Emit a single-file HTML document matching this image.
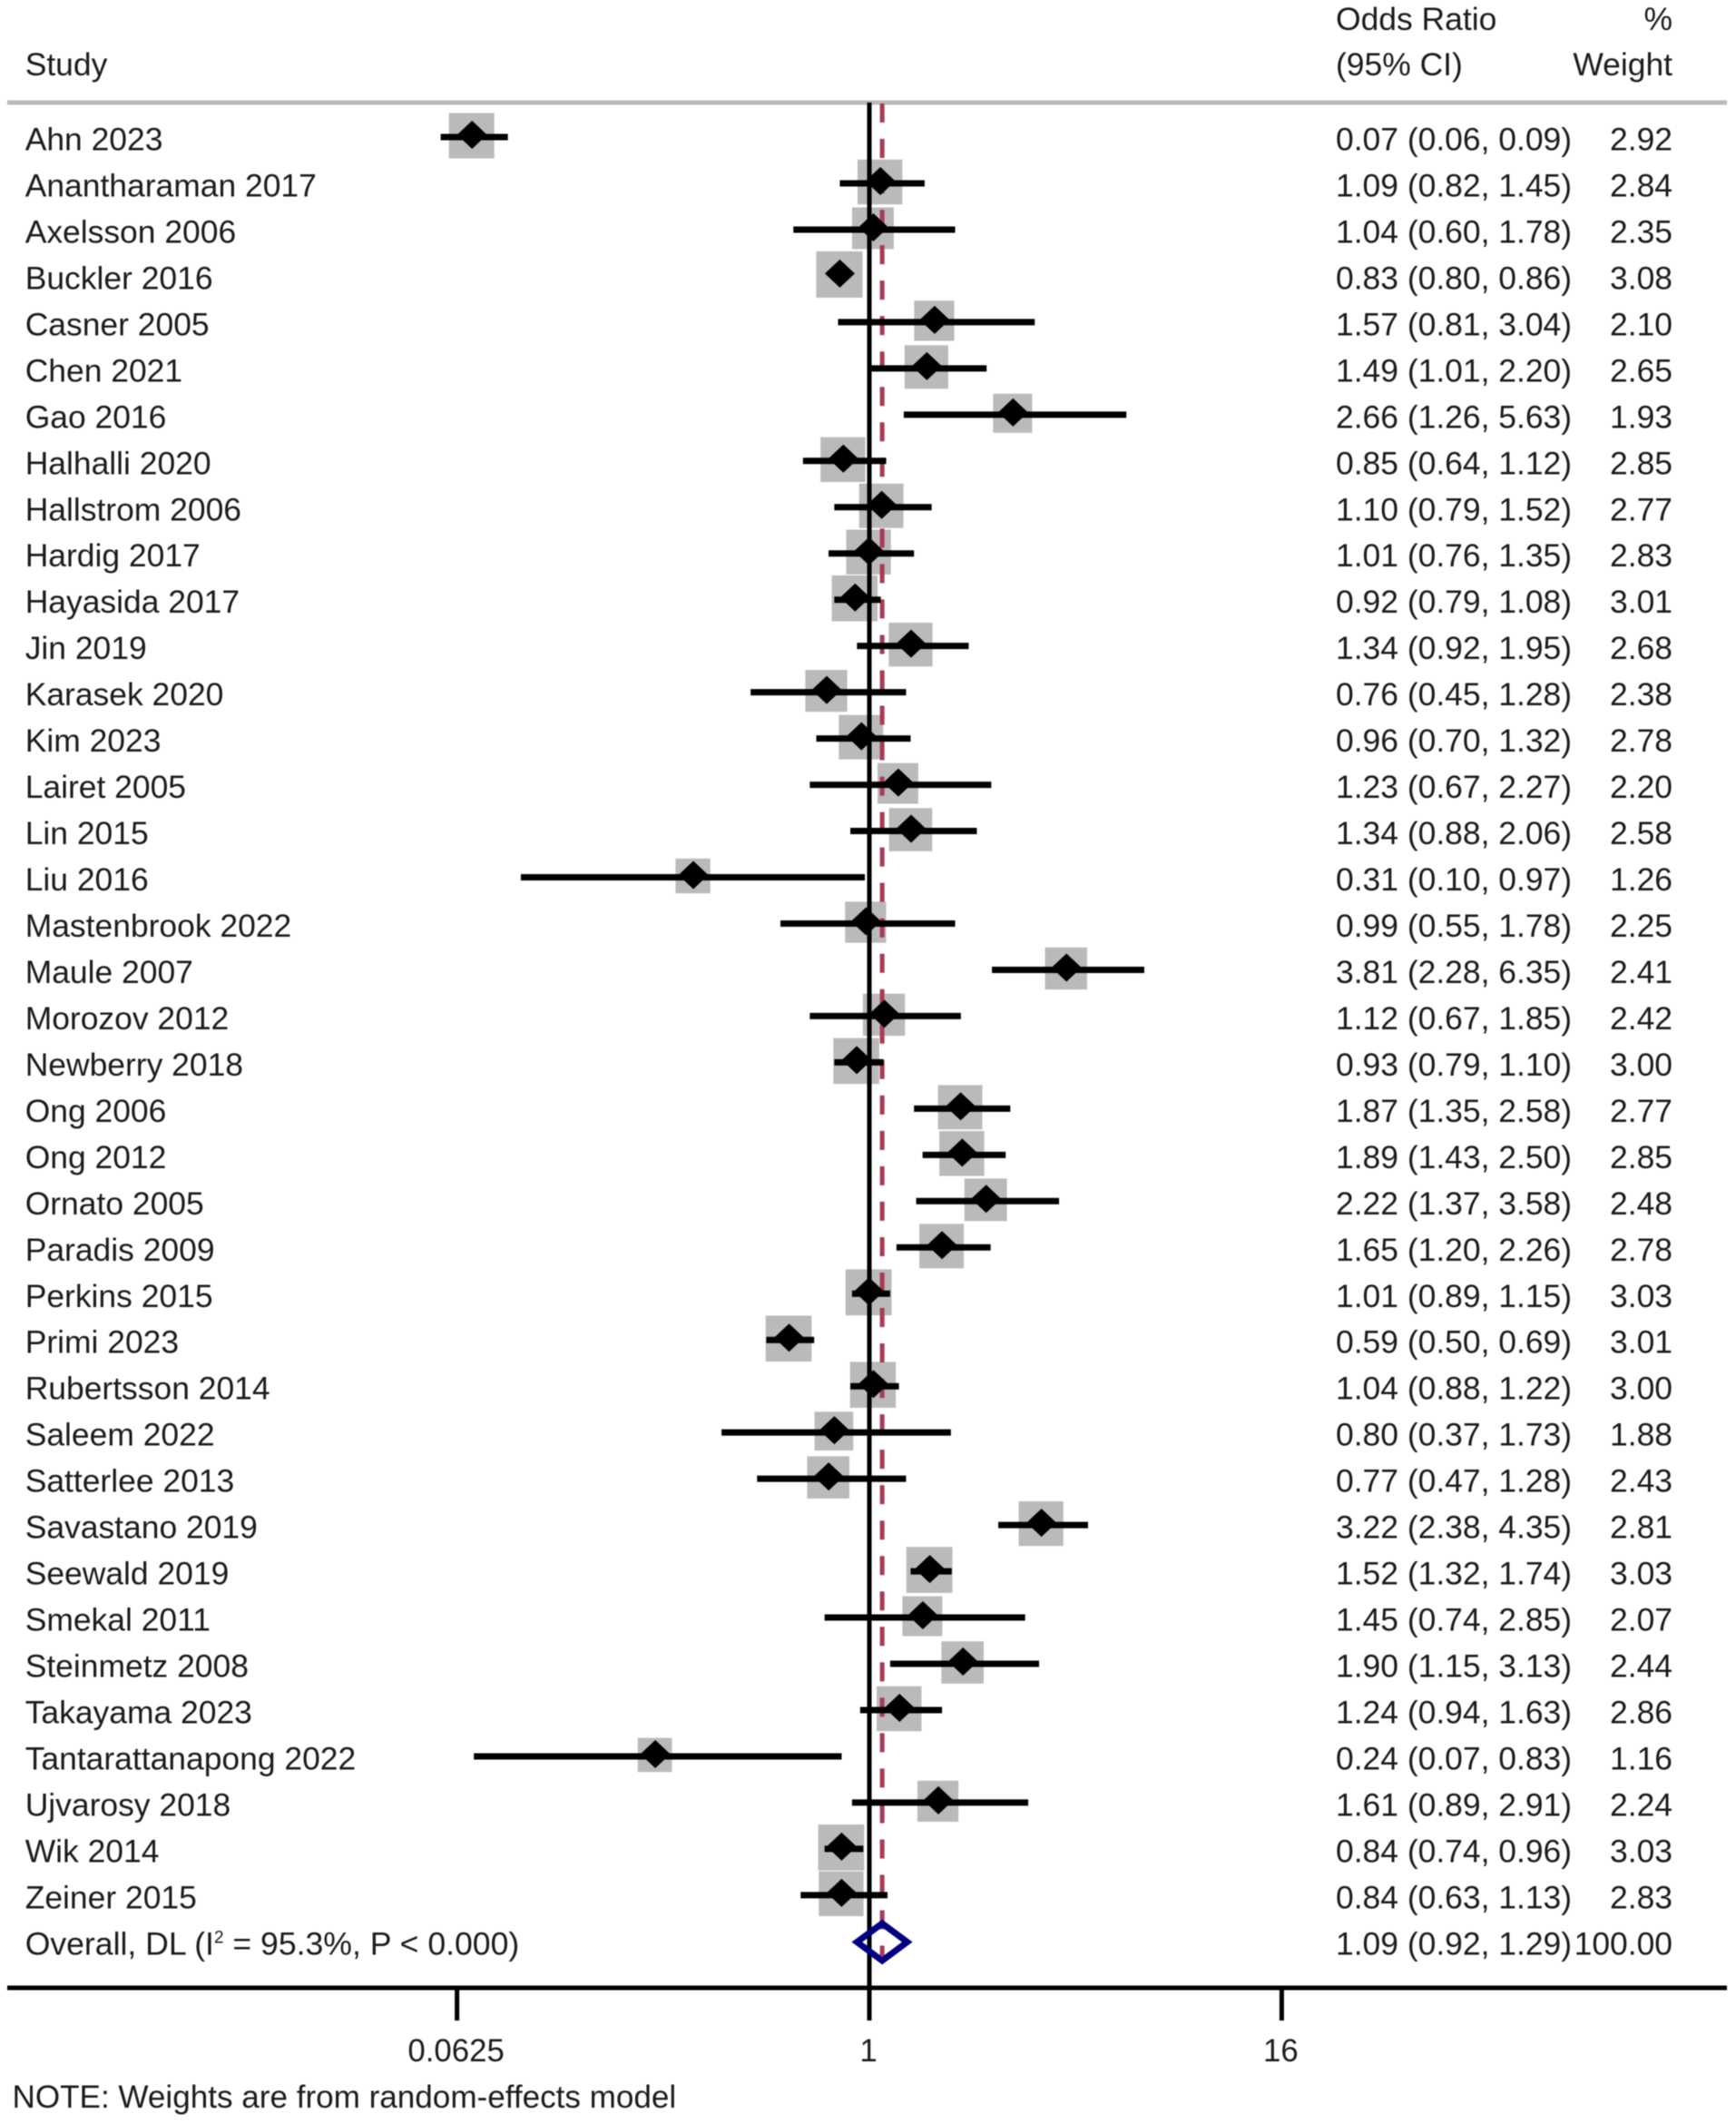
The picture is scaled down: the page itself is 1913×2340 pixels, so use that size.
<!DOCTYPE html>
<html lang="en">
<head>
<meta charset="utf-8">
<title>Forest plot of odds ratios</title>
<style>
  html, body { margin: 0; padding: 0; background: #fff; }
  svg { display: block; filter: blur(0.6px); }
  text { font-family: "Liberation Sans", Arial, sans-serif; fill: #1c1c1c; }
</style>
</head>
<body>
<svg id="plot" xmlns="http://www.w3.org/2000/svg" width="1913" height="2340" viewBox="0 0 1913 2340">
  <rect x="0" y="0" width="1913" height="2340" fill="#ffffff"/>
  <text x="1472" y="33" font-size="35.45">Odds Ratio</text>
  <text x="1843" y="33" font-size="35.45" text-anchor="end">%</text>
  <text x="27.7" y="83" font-size="35.45">Study</text>
  <text x="1472" y="83" font-size="35.45">(95% CI)</text>
  <text x="1843" y="83" font-size="35.45" text-anchor="end">Weight</text>
  <line x1="8" x2="1903" y1="113" y2="113" stroke="#bababa" stroke-width="5"/>
  <g id="boxes"></g>
  <g id="axis"></g>
  <g id="pooled"></g>
  <g id="marks"></g>
  <g id="labels"></g>
  <text x="13.5" y="2322" font-size="35.1">NOTE: Weights are from random-effects model</text>
</svg>
<script>
const studies = ["Ahn 2023","Anantharaman 2017","Axelsson 2006","Buckler 2016","Casner 2005","Chen 2021","Gao 2016","Halhalli 2020","Hallstrom 2006","Hardig 2017","Hayasida 2017","Jin 2019","Karasek 2020","Kim 2023","Lairet 2005","Lin 2015","Liu 2016","Mastenbrook 2022","Maule 2007","Morozov 2012","Newberry 2018","Ong 2006","Ong 2012","Ornato 2005","Paradis 2009","Perkins 2015","Primi 2023","Rubertsson 2014","Saleem 2022","Satterlee 2013","Savastano 2019","Seewald 2019","Smekal 2011","Steinmetz 2008","Takayama 2023","Tantarattanapong 2022","Ujvarosy 2018","Wik 2014","Zeiner 2015"];
const oddsRatios = [0.07,1.09,1.04,0.83,1.57,1.49,2.66,0.85,1.10,1.01,0.92,1.34,0.76,0.96,1.23,1.34,0.31,0.99,3.81,1.12,0.93,1.87,1.89,2.22,1.65,1.01,0.59,1.04,0.80,0.77,3.22,1.52,1.45,1.90,1.24,0.24,1.61,0.84,0.84];
const lowerCI = [0.056,0.82,0.60,0.80,0.81,1.01,1.26,0.64,0.79,0.76,0.79,0.92,0.45,0.70,0.67,0.88,0.096,0.55,2.28,0.67,0.79,1.35,1.43,1.37,1.20,0.89,0.50,0.88,0.37,0.47,2.38,1.32,0.74,1.15,0.94,0.07,0.89,0.74,0.63];
const upperCI = [0.088,1.45,1.78,0.86,3.04,2.20,5.63,1.12,1.52,1.35,1.08,1.95,1.28,1.32,2.27,2.06,0.97,1.78,6.35,1.85,1.10,2.58,2.50,3.58,2.26,1.15,0.69,1.22,1.73,1.28,4.35,1.74,2.85,3.13,1.63,0.83,2.91,0.96,1.13];
const weights = [2.92,2.84,2.35,3.08,2.10,2.65,1.93,2.85,2.77,2.83,3.01,2.68,2.38,2.78,2.20,2.58,1.26,2.25,2.41,2.42,3.00,2.77,2.85,2.48,2.78,3.03,3.01,3.00,1.88,2.43,2.81,3.03,2.07,2.44,2.86,1.16,2.24,3.03,2.83];
const overallOR = 1.09;
const overallLower = 0.92;
const overallUpper = 1.29;
const overallWeight = 100;
const xTickValues = [0.0625, 1, 16];
const xTickLabels = ["0.0625", "1", "16"];

const NS = "http://www.w3.org/2000/svg";
function xScale(v) { return 958 + 113.6 * Math.log2(v); }
function rowY(i) { return 151 + i * 50.97; }
function boxSide(w) { return 29.5 + 7 * w; }
function make(parent, tag, attrs, txt) {
  const el = document.createElementNS(NS, tag);
  for (const k in attrs) el.setAttribute(k, attrs[k]);
  if (txt !== undefined) el.textContent = txt;
  parent.appendChild(el);
  return el;
}
function ciText(o, l, h) { return o.toFixed(2) + " (" + l.toFixed(2) + ", " + h.toFixed(2) + ")"; }

const boxes = document.getElementById("boxes");
const axis = document.getElementById("axis");
const pooled = document.getElementById("pooled");
const marks = document.getElementById("marks");
const labels = document.getElementById("labels");

studies.forEach(function (name, i) {
  const y = rowY(i);
  const cx = xScale(oddsRatios[i]);
  const side = boxSide(weights[i]);

  const box = make(boxes, "rect", { x: cx - 2.5 - side / 2, y: y - 1.5 - side / 2, width: side, height: side, fill: "#bababa" });
  
  

  const ci = make(marks, "line", { x1: xScale(lowerCI[i]), x2: xScale(upperCI[i]), y1: y, y2: y, stroke: "#000", "stroke-width": 7 });
  
  

  const px = cx - 2;
  const py = y - 2.5;
  const dia = make(marks, "polygon", { points: (px - 16.5) + "," + py + " " + px + "," + (py - 15.5) + " " + (px + 16.5) + "," + py + " " + px + "," + (py + 15.5), fill: "#000" });
  
  

  const lab = make(labels, "text", { x: 27.7, y: y + 14.5, "font-size": 35.45 }, name);
  
  

  const est = make(labels, "text", { x: 1472, y: y + 14.5, "font-size": 35.45 }, ciText(oddsRatios[i], lowerCI[i], upperCI[i]));
  
  

  const wt = make(labels, "text", { x: 1843, y: y + 14.5, "font-size": 35.45, "text-anchor": "end" }, weights[i].toFixed(2));
  
  
});

/* axis and reference line */
const refLine = make(axis, "line", { x1: xScale(1), x2: xScale(1), y1: 113, y2: 2226, stroke: "#000", "stroke-width": 5 });



const axisLine = make(axis, "line", { x1: 8, x2: 1903, y1: 2190, y2: 2190, stroke: "#000", "stroke-width": 5 });



xTickValues.forEach(function (v, i) {
  const tick = make(axis, "line", { x1: xScale(v), x2: xScale(v), y1: 2190, y2: 2226, stroke: "#000", "stroke-width": 5 });
  
  

  const tl = make(axis, "text", { x: xScale(v) - 1, y: 2271, "font-size": 34.8, "text-anchor": "middle" }, xTickLabels[i]);
  
  
});

/* pooled estimate dashed line */
const pooledLine = make(pooled, "line", { x1: xScale(overallOR), x2: xScale(overallOR), y1: 114, y2: 2155, stroke: "#a93a55", "stroke-width": 5, "stroke-dasharray": "21 18.03" });



/* overall row */
const oy = rowY(39) + 0.7;
const oLeft = xScale(overallLower);
const oRight = xScale(overallUpper);
const oMid = xScale(overallOR);
const overallDiamond = make(marks, "polygon", { points: oLeft + "," + oy + " " + oMid + "," + (oy - 20.5) + " " + oRight + "," + oy + " " + oMid + "," + (oy + 20.5), fill: "none", stroke: "#000080", "stroke-width": 7 });



const overallLabel = make(labels, "text", { x: 27.7, y: rowY(39) + 14.5, "font-size": 35.6 });


make(overallLabel, "tspan", {}, "Overall, DL (I");
make(overallLabel, "tspan", { "font-size": 19, dy: -13 }, "2");
make(overallLabel, "tspan", { dy: 13 }, " = 95.3%, P < 0.000)");

const overallEst = make(labels, "text", { x: 1472, y: rowY(39) + 14.5, "font-size": 35.45 }, ciText(overallOR, overallLower, overallUpper));



const overallWt = make(labels, "text", { x: 1843, y: rowY(39) + 14.5, "font-size": 35.45, "text-anchor": "end" }, overallWeight.toFixed(2));


</script>
</body>
</html>
